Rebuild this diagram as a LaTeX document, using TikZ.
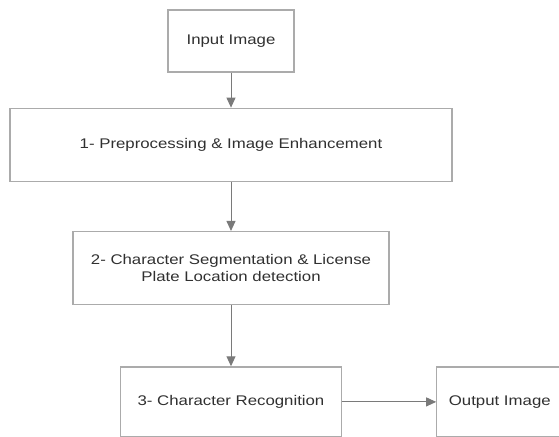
\documentclass[tikz,border=0pt]{standalone}
\usepackage{fontspec}
\setmainfont{Liberation Sans}[FakeStretch=1.2]
\usetikzlibrary{positioning, arrows.meta}
\definecolor{boxgray}{HTML}{ABABAB}
\definecolor{linegray}{HTML}{7A7A7A}
\definecolor{textgray}{HTML}{303030}
\tikzset{
x=1pt, y=-1pt, % one unit is one pixel of the page, y runs down
>={Triangle[length=10pt, width=9pt]}, % filled arrow heads
block/.style={draw=boxgray, line width=1.3pt, fill=white, text=textgray, inner sep=0pt, align=center, font=\fontsize{14}{16.5}\selectfont}, % every box
flow/.style={->, draw=linegray, line width=1pt}, % the connectors
}

\begin{document}
\begin{tikzpicture}
\useasboundingbox (0,0) rectangle (559,436);
\clip (0,0) rectangle (559,436);
\node[block, minimum width=126pt, minimum height=62pt] (input) at (231,41) {Input Image};
\node[block, minimum width=442pt, minimum height=73pt, below=35pt of input] (prep) {1- Preprocessing \& Image Enhancement};
\node[block, minimum width=316pt, minimum height=73pt, below=49pt of prep] (seg) {2- Character Segmentation \& License\\Plate Location detection};
\node[block, minimum width=221pt, minimum height=70pt, below=61pt of seg] (recog) {3- Character Recognition};
\node[block, minimum width=126pt, minimum height=70pt, right=94pt of recog] (output) {Output Image};
\path
(input) edge[flow] (prep)
(prep) edge[flow] (seg)
(seg) edge[flow] (recog)
(recog) edge[flow] (output)
;
\end{tikzpicture}
\end{document}
